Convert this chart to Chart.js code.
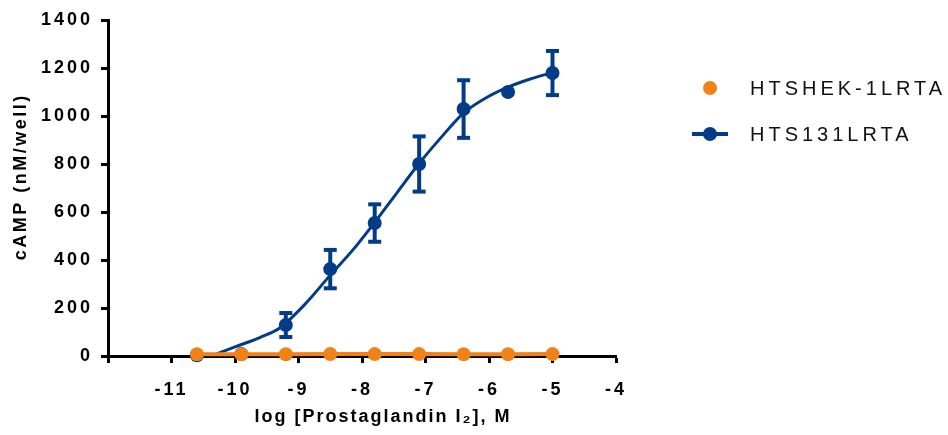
<!DOCTYPE html>
<html>
<head>
<meta charset="utf-8">
<script src="https://cdn.jsdelivr.net/npm/chart.js@4.4.1/dist/chart.umd.min.js"></script>
<style>
  html, body { margin: 0; padding: 0; background: #fff; }
  #wrap { position: relative; width: 948px; height: 435px; }
  #legend { position: absolute; left: 0; top: 0; width: 948px; height: 435px; pointer-events: none;
    font-family: 'Liberation Sans', Arial, sans-serif; font-size: 20px; letter-spacing: 4px; color: #111; }
  .item { position: absolute; left: 690px; height: 20px; display: flex; align-items: center; }
  .sym { position: relative; width: 40px; height: 20px; margin-right: 20px; }
  .sym .dot { position: absolute; left: 13px; top: 3px; width: 14px; height: 14px; border-radius: 50%; }
  .sym .ln { position: absolute; left: 2px; top: 8px; width: 36px; height: 4px; }
</style>
</head>
<body>
<div id="wrap">
  <canvas id="chart" width="948" height="435"></canvas>
  <div id="legend"></div>
</div>
<script>
// log concentrations, M
const logDose = [-10.6, -9.9, -9.2, -8.5, -7.8, -7.1, -6.4, -5.7, -5.0];

// HTSHEK-1LRTA means (no response)
const hekValues = [7, 7, 7, 8, 8, 8, 7, 7, 8];

// HTS131LRTA means and error bars
const hts131Values = [3, 8, 129, 362, 554, 800, 1029, 1100, 1179];
const hts131Errors = [0, 0, 50, 80, 78, 115, 120, 0, 92];

// fitted curve
const fitX = [-10.37, -10.0, -9.6, -9.29, -8.9, -8.5, -8.15, -7.82, -7.45, -7.12, -6.75, -6.41, -6.05, -5.72, -5.35, -5.0];
const fitY = [0, 38, 78, 118, 215, 337, 440, 550, 680, 796, 912, 1010, 1075, 1118, 1154, 1181];

// axis ticks
const xMin = -12, xMax = -4;
const yMin = 0, yMax = 1400, yStep = 200;

const seriesNames = ['HTSHEK-1LRTA', 'HTS131LRTA'];
const orange = '#F08218';
const blue = '#023C86';

const toPoints = (xs, ys) => xs.map((x, i) => ({ x: x, y: ys[i] }));

const datasets = [
  {
    label: seriesNames[0],
    data: toPoints(logDose, hekValues),
    borderColor: orange,
    backgroundColor: orange,
    borderWidth: 4,
    pointRadius: 7,
    pointBorderWidth: 0,
    clip: false,
    order: 0,
  },
  {
    label: seriesNames[1],
    data: toPoints(logDose, hts131Values),
    showLine: false,
    borderColor: blue,
    backgroundColor: blue,
    pointRadius: 7,
    pointBorderWidth: 0,
    clip: false,
    order: 1,
  },
  {
    label: 'fit',
    data: toPoints(fitX, fitY),
    borderColor: blue,
    borderWidth: 3,
    pointRadius: 0,
    cubicInterpolationMode: 'monotone',
    order: 2,
  },
];

// error bars: one short line per point, caps drawn as 'line' point style
logDose.forEach((x, i) => {
  const e = hts131Errors[i];
  if (!e) return;
  datasets.push({
    label: 'err',
    data: [{ x: x, y: hts131Values[i] - e }, { x: x, y: hts131Values[i] + e }],
    borderColor: blue,
    borderWidth: 4,
    pointStyle: 'line',
    pointRadius: 6.5,
    pointBorderWidth: 4,
    pointBorderColor: blue,
    clip: false,
    order: 1,
  });
});

// spaced-out lettering like the original
const spacing = {
  id: 'spacing',
  beforeLayout(chart) { chart.ctx.letterSpacing = '3px'; },
  beforeDraw(chart) { chart.ctx.letterSpacing = '3px'; },
};

// axis titles are a little tighter than the tick labels
const tightTitle = (gap) => (scale) => {
  if (scale._tightTitle) return;
  scale._tightTitle = true;
  const drawTitle = scale.drawTitle;
  scale.drawTitle = function () {
    this.ctx.letterSpacing = gap;
    drawTitle.call(this);
    this.ctx.letterSpacing = '3px';
  };
};

const font = { family: "'Liberation Sans', Arial, sans-serif", size: 18, weight: 'bold' };

new Chart(document.getElementById('chart'), {
  type: 'line',
  data: { datasets: datasets },
  plugins: [spacing],
  options: {
    responsive: false,
    animation: false,
    devicePixelRatio: 1,
    layout: { padding: { left: 0, top: 20, right: 332, bottom: 0 } },
    plugins: { legend: { display: false }, tooltip: { enabled: false } },
    scales: {
      x: {
        type: 'linear',
        min: xMin,
        max: xMax,
        afterFit(scale) {
          scale.height = 79;
          tightTitle('2px')(scale);
        },
        ticks: {
          stepSize: 1,
          color: '#000',
          font: font,
          padding: 16,
          maxRotation: 0,
          callback: (v) => (v === xMin ? '' : String(v)),
        },
        grid: { drawOnChartArea: false, tickLength: 7, tickWidth: 3, tickColor: '#000' },
        border: { color: '#000', width: 3 },
        title: {
          display: true,
          // leading spaces push the title right as in the original
          text: '      log [Prostaglandin I\u2082], M',
          color: '#000',
          font: font,
          padding: { top: 0, bottom: 7 },
        },
      },
      y: {
        min: yMin,
        max: yMax,
        afterFit(scale) {
          scale.width = 108;
          tightTitle('2.5px')(scale);
        },
        ticks: { stepSize: yStep, color: '#000', font: font, padding: 8, callback: (v) => String(v) },
        grid: { drawOnChartArea: false, tickLength: 7, tickWidth: 3, tickColor: '#000' },
        border: { color: '#000', width: 3 },
        title: {
          display: true,
          text: '   cAMP (nM/well)',
          color: '#000',
          font: font,
          padding: { top: 10, bottom: 0 },
        },
      },
    },
  },
});

// legend
const legend = document.getElementById('legend');
const legendRows = [
  { name: seriesNames[0], color: orange, line: false, top: 78 },
  { name: seriesNames[1], color: blue, line: true, top: 124 },
];
legendRows.forEach((row) => {
  const item = document.createElement('div');
  item.className = 'item';
  item.style.top = row.top + 'px';
  const sym = document.createElement('div');
  sym.className = 'sym';
  if (row.line) {
    const ln = document.createElement('div');
    ln.className = 'ln';
    ln.style.background = row.color;
    sym.appendChild(ln);
  }
  const dot = document.createElement('div');
  dot.className = 'dot';
  dot.style.background = row.color;
  sym.appendChild(dot);
  const text = document.createElement('span');
  text.textContent = row.name;
  item.appendChild(sym);
  item.appendChild(text);
  legend.appendChild(item);
});
</script>
</body>
</html>
